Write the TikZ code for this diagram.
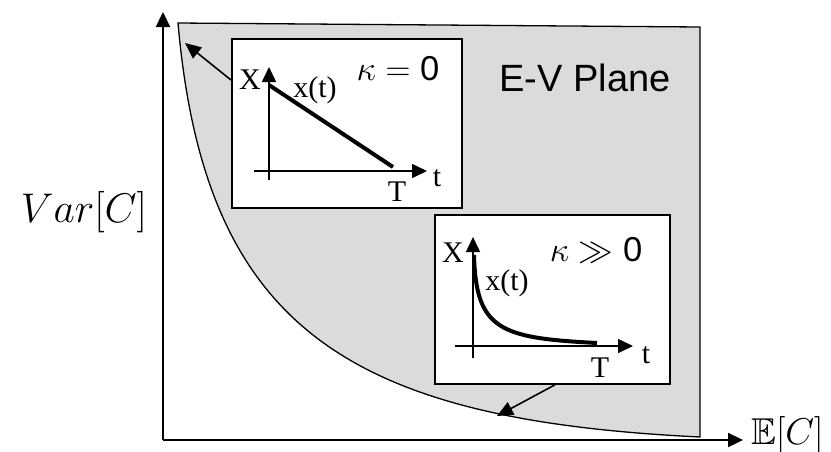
\documentclass[tikz,border=0pt]{standalone}
\usepackage{graphicx}
\usepackage{amssymb}
\usepackage{fontspec}
\setmainfont{Liberation Serif}
\newfontfamily\arialf{Liberation Sans}
\usetikzlibrary{arrows.meta,calc}
\definecolor{planegray}{gray}{0.86}
\newcommand{\BigMath}[2]{\scalebox{#1}{\fontsize{20.74}{22}\selectfont #2}}
\newcommand{\KapMath}[1]{\scalebox{2}{\fontsize{17.28}{19}\selectfont #1}}
\begin{document}
\begin{tikzpicture}[x=1pt,y=-1pt,
  axis/.style={line width=2.3pt,-{Triangle[length=15pt,width=14pt]}},
  inaxis/.style={line width=1.6pt,-{Triangle[length=15pt,width=14pt]}},
  pointer/.style={line width=1.6pt,-{Triangle[length=16pt,width=14pt]}},
  panel/.style={draw,line width=1.8pt,fill=white,inner sep=0pt,anchor=north west},
  path/.style={line width=4pt},
  inlbl/.style={inner sep=0pt,font=\fontsize{30}{32}\selectfont},
  kap/.style={inner sep=0pt},
  axlbl/.style={inner sep=0pt},
  ]
\useasboundingbox (0,0) rectangle (831,451);
% E-V plane region
\filldraw[fill=planegray,draw=black,line width=1.3pt]
  (178,23) -- (700,27) -- (700,437) .. controls (350,420) and (205,330) .. (178,23) -- cycle;
\node[inner sep=0pt,font=\arialf\fontsize{38}{40}\selectfont] (ev) at (585,78) {E-V Plane};
% axes
\coordinate (O) at (163,440);
\coordinate (ytip) at (163,12);
\coordinate (xtip) at (743,440);
\draw[axis] (O) -- (ytip);
\draw[axis] (O) -- (xtip);
\node[axlbl] (vl) at (84,212) {\BigMath{2}{$Var[C]$}};
\node[axlbl,anchor=west] (el) at (751,435) {\BigMath{1.8}{$\mathbb{E}[C]$}};
% panel 1
\node[panel,minimum width=230pt,minimum height=169pt] (b1) at (231,38) {};
\draw[inaxis] (269,180) -- (269,67);
\draw[inaxis] (254,171) -- (427,171);
\draw[path] (269,85) -- (393,167);
\node[inlbl] (X1) at (250,80) {X};
\node[inlbl] (xt1) at (315,90) {x(t)};
\node[inlbl] (T1) at (397,192) {T};
\node[inlbl] (t1) at (437,178) {t};
\node[kap] (k1) at (398,69) {\KapMath{$\kappa = {}${\arialf 0}}};
% panel 2
\node[panel,minimum width=235pt,minimum height=169pt] (b2) at (434,214) {};
\draw[inaxis] (473,358) -- (473,237);
\draw[inaxis] (455,346) -- (633,346);
\draw[path] (474,255) .. controls (476,330) and (500,338) .. (597,343);
\node[inlbl] (X2) at (453,253) {X};
\node[inlbl] (xt2) at (507,283) {x(t)};
\node[inlbl] (T2) at (600,368) {T};
\node[inlbl] (t2) at (646,355) {t};
\node[kap] (k2) at (596,250) {\KapMath{$\kappa \gg {}${\arialf 0}}};
% pointers
\coordinate (c1) at (185,43);
\coordinate (c2) at (497,416);
\draw[pointer] ($(b1.north west)+(0,42)$) -- (c1);
\draw[pointer] ($(b2.south west)+(121,0)$) -- (c2);
\end{tikzpicture}
\end{document}
